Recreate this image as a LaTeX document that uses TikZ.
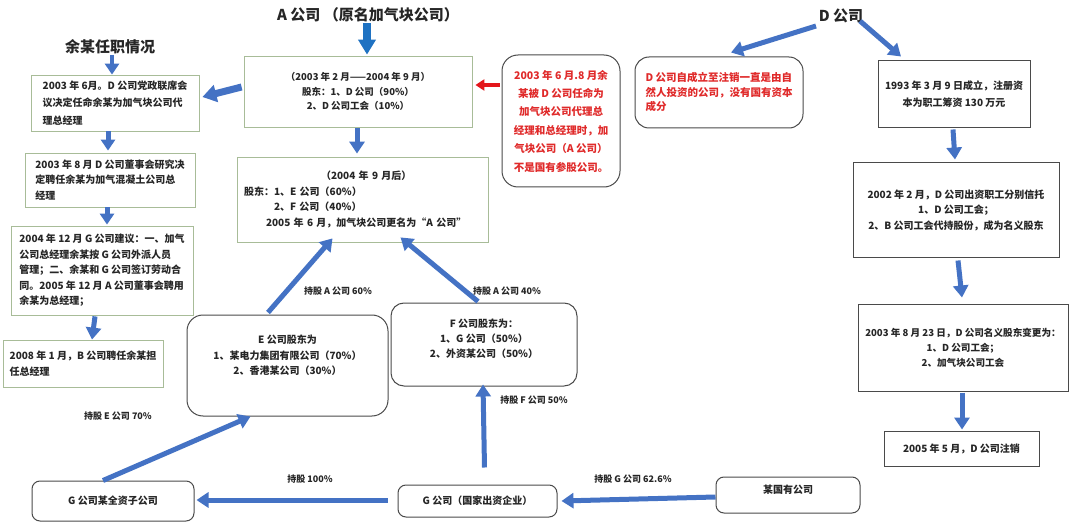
\documentclass[tikz,border=0pt]{standalone}
\usepackage{fontspec}
\setmainfont{Noto Sans CJK SC}
\usetikzlibrary{arrows.meta,calc}
\definecolor{ablue}{HTML}{4472C4}
\definecolor{tblue}{HTML}{1F72C2}
\definecolor{ared}{HTML}{E3161B}
\definecolor{rtext}{HTML}{E02A2A}
\definecolor{lgreen}{HTML}{A8BC98}
\definecolor{dgray}{HTML}{4A4A4A}
\tikzset{
  base/.style={font=\fontsize{10}{15.5}\selectfont\bfseries, inner sep=0pt, text=black!85},
  lbox/.style={base, draw=lgreen, line width=0.8pt, align=left},
  rbox/.style={base, draw=dgray, line width=1pt, align=center},
  rnd/.style={base, draw=dgray, line width=1pt, rounded corners=12pt, align=center},
  barrow/.style={draw=ablue, line width=5pt, -{Triangle[length=12pt,width=15pt]}},
  lbl/.style={font=\fontsize{9}{11}\selectfont\bfseries, inner sep=1pt, text=black!85},
  ttl/.style={font=\fontsize{15}{18}\selectfont\bfseries, inner sep=1pt, text=black!85},
}
\begin{document}
\begin{tikzpicture}[x=1pt,y=-1pt]
\useasboundingbox[fill=white] (0,0) rectangle (1080,532);

% titles
\node[ttl] (TL) at (110,47) {余某任职情况};
\node[ttl] (TA) at (368,15) {A 公司 （原名加气块公司）};
\node[ttl] (TD) at (841,16) {D 公司};

% left column
\node[lbox, minimum width=168pt, minimum height=56pt, font=\fontsize{10}{17.5}\selectfont\bfseries] (L1) at (115,103)
  {2003 年 6月。D 公司党政联席会\\议决定任命余某为加气块公司代\\理总经理};
\node[lbox, minimum width=170pt, minimum height=54pt] (L2) at (110,180)
  {2003 年 8 月 D 公司董事会研究决\\定聘任余某为加气混凝土公司总\\经理};
\node[lbox, minimum width=182pt, minimum height=89pt] (L3) at (102,270.5)
  {2004 年 12 月 G 公司建议：一、加气\\公司总经理余某按 G 公司外派人员\\管理；二、余某和 G 公司签订劳动合\\同。2005 年 12 月 A 公司董事会聘用\\余某为总经理；};
\node[lbox, minimum width=160pt, minimum height=47pt] (L4) at (83,363.5)
  {2008 年 1 月，B 公司聘任余某担\\任总经理};

% A company boxes
\node[lbox, align=center, minimum width=228pt, minimum height=71pt, font=\fontsize{9.5}{14.5}\selectfont\bfseries] (A1) at (358,91.5)
  {（2003 年 2 月——2004 年 9 月）\\股东：1、D 公司（90\%）\\2、D 公司工会（10\%）};
\node[lbox, text width=237pt, align=left, minimum width=251pt, minimum height=85pt] (A2) at (362.5,199.5)
  {\hspace*{77pt}（2004 年 9 月后）\\股东：1、E 公司（60\%）\\\hspace*{30pt}2、F 公司（40\%）\\\hspace*{22pt}2005 年 6 月，加气块公司更名为“A 公司”};

% red notes
\node[rnd, rounded corners=16pt, text=rtext, minimum width=118pt, minimum height=132pt, font=\fontsize{10.5}{18.4}\selectfont\bfseries] (R1n) at (561,121)
  {2003 年 6 月.8 月余\\某被 D 公司任命为\\加气块公司代理总\\经理和总经理时，加\\气块公司（A 公司）\\不是国有参股公司。};
\node[rnd, rounded corners=14pt, text=rtext, align=left, minimum width=168pt, minimum height=71pt, font=\fontsize{10.5}{14.5}\selectfont\bfseries] (R2n) at (719,92.5)
  {D 公司自成立至注销一直是由自\\然人投资的公司，没有国有资本\\成分};

% right column
\node[rbox, minimum width=152pt, minimum height=67pt, font=\fontsize{10}{17}\selectfont\bfseries] (R1) at (954,94.5)
  {1993 年 3 月 9 日成立，注册资\\本为职工筹资 130 万元};
\node[rbox, minimum width=206pt, minimum height=94pt] (R2) at (956,210)
  {2002 年 2 月，D 公司出资职工分别信托\\1、D 公司工会；\\2、B 公司工会代持股份，成为名义股东};
\node[rbox, minimum width=210pt, minimum height=87pt, font=\fontsize{9.6}{15}\selectfont\bfseries] (R3) at (963,347.5)
  {2003 年 8 月 23 日，D 公司名义股东变更为：\\1、D 公司工会；\\2、加气块公司工会};
\node[rbox, minimum width=155pt, minimum height=35pt] (R4) at (961.5,448.5)
  {2005 年 5 月，D 公司注销};

% shareholder boxes
\node[rnd, rounded corners=16pt, minimum width=201pt, minimum height=101pt, text depth=0pt] (E) at (287.5,365.5)
  {E 公司股东为\\1、某电力集团有限公司（70\%）\\2、香港某公司（30\%）\\[6pt]\mbox{}};
\node[rnd, rounded corners=13pt, minimum width=186pt, minimum height=83pt, font=\fontsize{10}{15}\selectfont\bfseries] (F) at (484,344.5)
  {F 公司股东为：\\1、G 公司（50\%）\\2、外资某公司（50\%）\\[-2pt]\mbox{}};
\node[rnd, rounded corners=8pt, minimum width=159pt, minimum height=32pt] (G) at (477.5,501)
  {G 公司（国家出资企业）};
\node[rnd, rounded corners=8pt, minimum width=162pt, minimum height=40pt] (Gs) at (113,501)
  {G 公司某全资子公司};
\node[rnd, rounded corners=8pt, minimum width=144pt, minimum height=36pt] (N) at (788,495)
  {某国有公司\\[-3pt]\mbox{}};

% arrows: left column
\draw[barrow, line width=4.5pt, -{Triangle[length=11pt,width=14pt]}] (TL.south -| 112,0) -- (L1.north -| 112,0);
\draw[barrow, line width=7pt, -{Triangle[length=14pt,width=17pt]}] ($(A1.west)+(-2,-4.5)$) -- ($(L1.east)+(3,-6)$);
\draw[barrow, -{Triangle[length=11pt,width=14pt]}] ($(L1.south)+(-7,0)$) -- ($(L2.north)+(-2,-2)$);
\draw[barrow, -{Triangle[length=11pt,width=14pt]}] ($(L2.south)+(-3,0)$) -- ($(L3.north)+(5,-1)$);
\draw[barrow, -{Triangle[length=12pt,width=15pt]}] ($(L3.south)+(-7,1)$) -- ($(L4.north)+(9,0)$);

% arrows: A company
\draw[draw=tblue, line width=8pt, -{Triangle[length=15pt,width=17pt]}] (TA.south -| 367,0) -- ($(A1.north)+(9,-1)$);
\draw[draw=ared, line width=4pt, -{Triangle[length=9pt,width=11pt]}] ($(R1n.west)+(-2,-36)$) -- ($(A1.east)+(3,-6.5)$);
\draw[barrow] ($(A1.south)+(-1,1)$) -- ($(A2.north)+(-5.5,-3)$);
\draw[barrow] ($(E.north)+(-19.5,-2)$) -- ($(A2.south)+(-30,-4)$);
\draw[barrow] ($(F.north)+(-6,-1)$) -- ($(A2.south)+(38,-5)$);

% arrows: bottom chain
\draw[barrow] ($(G.north)+(7,-17)$) -- ($(F.south)+(-1,-2)$);
\draw[barrow] ($(G.west)+(-10,-1)$) -- ($(Gs.east)+(2,-1)$);
\draw[barrow] ($(Gs.north)+(-10,0)$) -- ($(E.south)+(-37,0)$);
\draw[barrow] ($(N.west)+(0,2)$) -- ($(G.east)+(4,0)$);

% arrows: D company
\draw[barrow] ($(TD.center)+(-25,10)$) -- ($(R2n.north)+(12,-4)$);
\draw[barrow] ($(TD.center)+(19,5)$) -- ($(R1.north)+(-53,-4)$);
\draw[barrow] ($(R1.south)+(-1,1)$) -- ($(R2.north)+(-1,-3)$);
\draw[barrow] ($(R2.south)+(2,3)$) -- ($(R3.north)+(-1,-6)$);
\draw[barrow] ($(R3.south)+(-1,1)$) -- ($(R4.north)+(0.5,-1)$);

% labels
\node[lbl] (lA60) at (338,291) {持股 A 公司 60\%};
\node[lbl] (lA40) at (507,291) {持股 A 公司 40\%};
\node[lbl] (lF50) at (534,400) {持股 F 公司 50\%};
\node[lbl] (l100) at (310,479) {持股 100\%};
\node[lbl] (lE70) at (118,416) {持股 E 公司 70\%};
\node[lbl] (lG62) at (633,479) {持股 G 公司 62.6\%};
\end{tikzpicture}
\end{document}
